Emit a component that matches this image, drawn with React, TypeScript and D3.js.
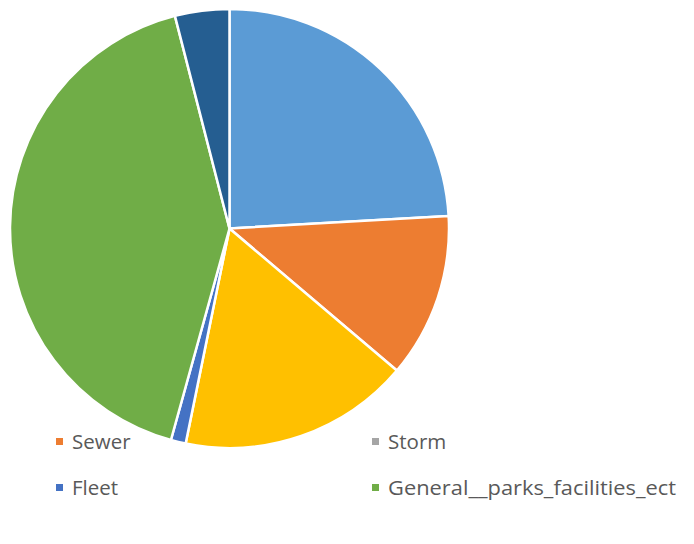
import React from "react";
import * as d3 from "d3";

const categories = ["Water", "Sewer", "Storm", "Streets", "Fleet", "General__parks_facilities_ect", "Other"];
const values = [24.1, 12.1, 0, 17.0, 1.1, 41.7, 4.0];
const colors = ["#5B9BD5", "#ED7D31", "#A5A5A5", "#FFC000", "#4472C4", "#70AD47", "#255E91"];
const legendItems = ["Sewer", "Storm", "Fleet", "General__parks_facilities_ect"];

const W = 694;
const H = 544;
const cx = 229.5;
const cy = 228.5;
const R = 219.5;

export default function App() {
  const pie = d3.pie<number>().sort(null).value((d) => d)(values);
  const arc = d3.arc<d3.PieArcDatum<number>>().innerRadius(0).outerRadius(R);
  const legendX = d3.scaleOrdinal<number>().domain(["0", "1"]).range([56, 372]);
  const legendY = d3.scaleOrdinal<number>().domain(["0", "1"]).range([441.5, 487.5]);
  return (
    <svg width={W} height={H} style={{ position: "absolute", left: 0, top: 0, background: "#fff" }}>
      <g transform={`translate(${cx},${cy})`}>
        {pie.map((p, i) =>
          p.endAngle - p.startAngle > 0 ? (
            <path key={i} d={arc(p) || ""} fill={colors[i]} stroke="#fff" strokeWidth={2.5} strokeLinejoin="round" />
          ) : null
        )}
      </g>
      {legendItems.map((name, k) => {
        const ci = categories.indexOf(name);
        const x = legendX(String(k % 2));
        const y = legendY(String(Math.floor(k / 2)));
        const long = name.length > 20;
        return (
          <g key={name}>
            <rect x={x} y={y - 3.5} width={7} height={7} fill={colors[ci]} />
            <text
              x={x + 16}
              y={y}
              dy="0.36em"
              fontFamily="'Open Sans', sans-serif"
              fontSize={20.5}
              fill="#595959"
              {...(long ? { textLength: 288, lengthAdjust: "spacingAndGlyphs" } : {})}
            >
              {name}
            </text>
          </g>
        );
      })}
    </svg>
  );
}
